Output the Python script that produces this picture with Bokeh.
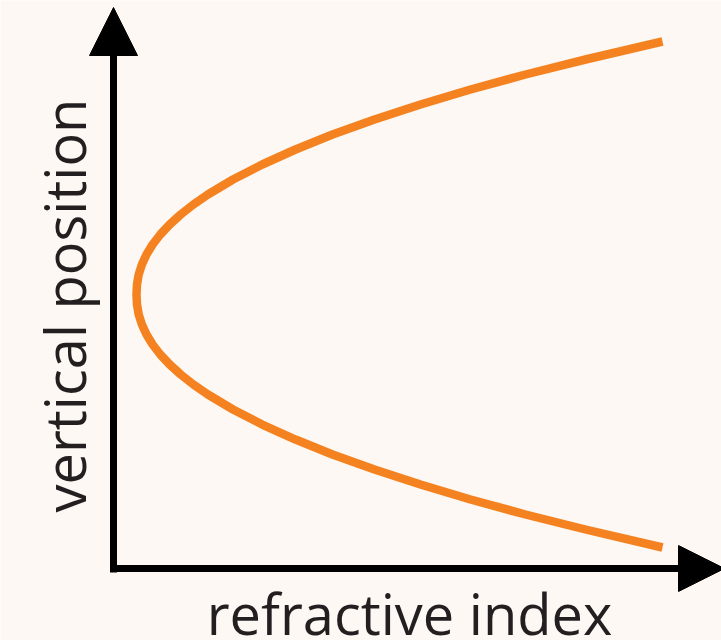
import math
from bokeh.plotting import figure
from bokeh.models import Range1d, Arrow, NormalHead, Label
from bokeh.embed import file_html
from bokeh.resources import INLINE

# Curve: (refractive index, vertical position), arbitrary units,
# origin at the axes' corner; listed from the top end, through the vertex, to the bottom end
refr_index = [5.49, 4.72, 4.12, 3.57, 3.07, 2.61, 2.19, 1.82, 1.487, 1.195, 0.944,
              0.799, 0.672, 0.562, 0.468, 0.391, 0.33, 0.284, 0.252, 0.235,
              0.23,
              0.235, 0.252, 0.284, 0.33, 0.391, 0.468, 0.562, 0.672, 0.799,
              0.944, 1.195, 1.487, 1.82, 2.19, 2.61, 3.07, 3.57, 4.12, 4.72, 5.49]
vert_pos = [5.27, 5.09, 4.94, 4.79, 4.64, 4.49, 4.34, 4.19, 4.04, 3.89, 3.74,
            3.64, 3.54, 3.44, 3.34, 3.24, 3.14, 3.04, 2.94, 2.84,
            2.74,
            2.64, 2.54, 2.44, 2.34, 2.24, 2.14, 2.04, 1.94, 1.84,
            1.74, 1.59, 1.44, 1.29, 1.14, 0.99, 0.84, 0.69, 0.54, 0.39, 0.21]

x_label = "refractive index"
y_label = "vertical position"

BG = "#fdf8f3"
ORANGE = "#f58220"
INK = "#231f20"

p = figure(width=721, height=640, output_backend="svg", toolbar_location=None,
           x_range=Range1d(-1.13, 6.08), y_range=Range1d(-0.72, 5.68),
           x_axis_location=None, y_axis_location=None, min_border=0,
           background_fill_color=BG, border_fill_color=BG)
p.grid.visible = False
p.outline_line_color = None

p.line(refr_index, vert_pos, line_color=ORANGE, line_width=8.5, line_join="round")

# axes as arrows
p.add_layout(Arrow(x_start=0, y_start=-0.04, x_end=0, y_end=5.61, line_width=7,
                   line_color="black",
                   end=NormalHead(size=48, fill_color="black", line_color="black", line_width=1)))
p.add_layout(Arrow(x_start=-0.03, y_start=0, x_end=6.11, y_end=0, line_width=7,
                   line_color="black",
                   end=NormalHead(size=46, fill_color="black", line_color="black", line_width=1)))

p.add_layout(Label(x=409, y=28, x_units="screen", y_units="screen", text=x_label,
                   text_font="Open Sans", text_font_size="56px", text_color=INK,
                   text_align="center", text_baseline="alphabetic"))
p.add_layout(Label(x=63, y=335, x_units="screen", y_units="screen", text=y_label,
                   angle=math.pi / 2, text_font="Open Sans", text_font_size="56px",
                   text_color=INK, text_align="center", text_baseline="alphabetic"))

open("out.html", "w").write(file_html(p, INLINE))
